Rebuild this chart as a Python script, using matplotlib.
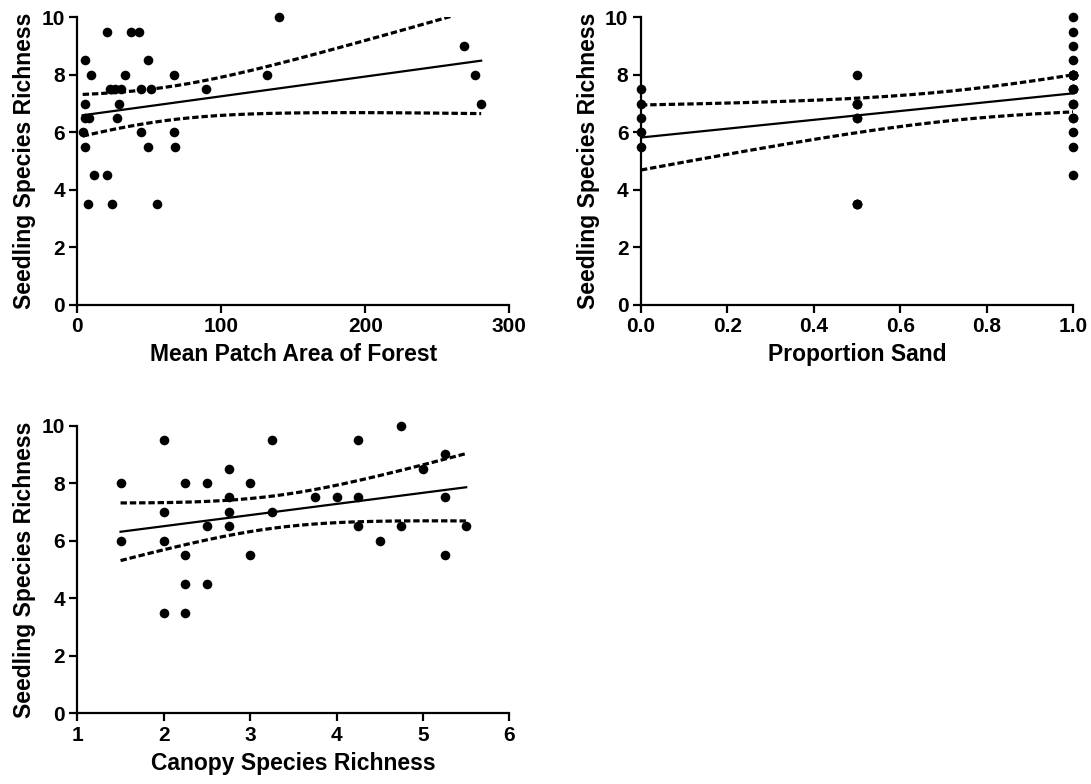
import numpy as np
import matplotlib
matplotlib.use('Agg')
import matplotlib.pyplot as plt

plt.rcParams['font.family'] = ['Liberation Sans', 'DejaVu Sans']
plt.rcParams['font.weight'] = 'bold'

# panel 1: mean patch area of forest
patch_area = [5.3, 5.3, 5.0, 8.3, 3.7, 5.3, 7.4, 9.5, 11.6, 20.8, 20.8, 23.0,
              23.8, 26.0, 30.0, 27.8, 29.2, 32.9, 37.0, 43.0, 44.0, 44.0, 49.3,
              49.3, 51.0, 55.3, 67.4, 67.4, 67.8, 89.0, 132.0, 140.0, 268.8,
              276.2, 280.4]
patch_rich = [8.5, 7.0, 6.5, 6.5, 6.0, 5.5, 3.5, 8.0, 4.5, 9.5, 4.5, 7.5,
              3.5, 7.5, 7.5, 6.5, 7.0, 8.0, 9.5, 9.5, 7.5, 6.0, 8.5,
              5.5, 7.5, 3.5, 8.0, 6.0, 5.5, 7.5, 8.0, 10.0, 9.0,
              8.0, 7.0]

# panel 2: proportion sand (several sites overlap)
sand = [0.0] * 5 + [0.5] * 9 + [1.0] * 20
sand_rich = [5.5, 6.0, 6.5, 7.0, 7.5,
             3.5, 3.5, 3.5, 6.5, 6.5, 7.0, 7.0, 7.0, 8.0,
             4.5, 5.5, 6.0, 6.5, 6.5, 7.0, 7.0, 7.5, 7.5, 7.5,
             8.0, 8.0, 8.0, 8.0, 8.0, 8.0, 8.5, 9.0, 9.5, 10.0]

# panel 3: canopy species richness
canopy = [1.5, 1.5, 2.0, 2.0, 2.0, 2.0, 2.25, 2.25, 2.25, 2.25, 2.5, 2.5, 2.5,
          2.75, 2.75, 2.75, 2.75, 3.0, 3.0, 3.25, 3.25, 3.75, 4.0, 4.25, 4.25,
          4.25, 4.5, 4.75, 4.75, 5.0, 5.25, 5.25, 5.25, 5.5]
canopy_rich = [8.0, 6.0, 9.5, 7.0, 6.0, 3.5, 8.0, 5.5, 4.5, 3.5, 8.0, 6.5, 4.5,
               8.5, 7.5, 7.0, 6.5, 8.0, 5.5, 9.5, 7.0, 7.5, 7.5, 9.5, 7.5,
               6.5, 6.0, 10.0, 6.5, 8.5, 9.0, 7.5, 5.5, 6.5]

T95 = 2.035  # two-sided 95% t value, df ~ 32


def fit_band(x, y):
    x = np.asarray(x, float)
    y = np.asarray(y, float)
    n = len(x)
    b, a = np.polyfit(x, y, 1)
    resid = y - (a + b * x)
    s = np.sqrt(np.sum(resid ** 2) / (n - 2))
    sxx = np.sum((x - x.mean()) ** 2)
    xs = np.linspace(x.min(), x.max(), 200)
    ys = a + b * xs
    h = T95 * s * np.sqrt(1.0 / n + (xs - x.mean()) ** 2 / sxx)
    return xs, ys, ys - h, ys + h


def panel(ax, x, y, xlim, xticks, xlabel):
    xs, ys, lo, hi = fit_band(x, y)
    ax.plot(xs, ys, color='black', lw=1.6)
    for band in (lo, hi):
        ax.plot(xs, band, color='black', lw=2.3, dashes=(2.0, 0.9))
    ax.scatter(x, y, s=48, color='black', zorder=3, clip_on=False, linewidths=0)
    ax.set_xlim(xlim)
    ax.set_ylim(0, 10)
    ax.set_xticks(xticks)
    ax.set_yticks([0, 2, 4, 6, 8, 10])
    ax.spines['top'].set_visible(False)
    ax.spines['right'].set_visible(False)
    for sp in ('left', 'bottom'):
        ax.spines[sp].set_linewidth(1.6)
    ax.tick_params(width=1.6, length=6, labelsize=15, pad=3)
    ax.set_xlabel(xlabel, fontsize=16.5, fontweight='bold', labelpad=5)
    ax.set_ylabel('Seedling Species Richness', fontsize=16.5, fontweight='bold', labelpad=4)


fig = plt.figure(figsize=(10.91, 7.84), dpi=100)
ax1 = fig.add_axes([0.0709, 0.611, 0.396, 0.367])
ax2 = fig.add_axes([0.5875, 0.611, 0.396, 0.367])
ax3 = fig.add_axes([0.0709, 0.0902, 0.396, 0.367])

panel(ax1, patch_area, patch_rich, (0, 300), [0, 100, 200, 300], 'Mean Patch Area of Forest')
panel(ax2, sand, sand_rich, (0, 1), [0.0, 0.2, 0.4, 0.6, 0.8, 1.0], 'Proportion Sand')
ax2.set_xticklabels(['0.0', '0.2', '0.4', '0.6', '0.8', '1.0'])
panel(ax3, canopy, canopy_rich, (1, 6), [1, 2, 3, 4, 5, 6], 'Canopy Species Richness')

fig.savefig('out.png', dpi=100)
